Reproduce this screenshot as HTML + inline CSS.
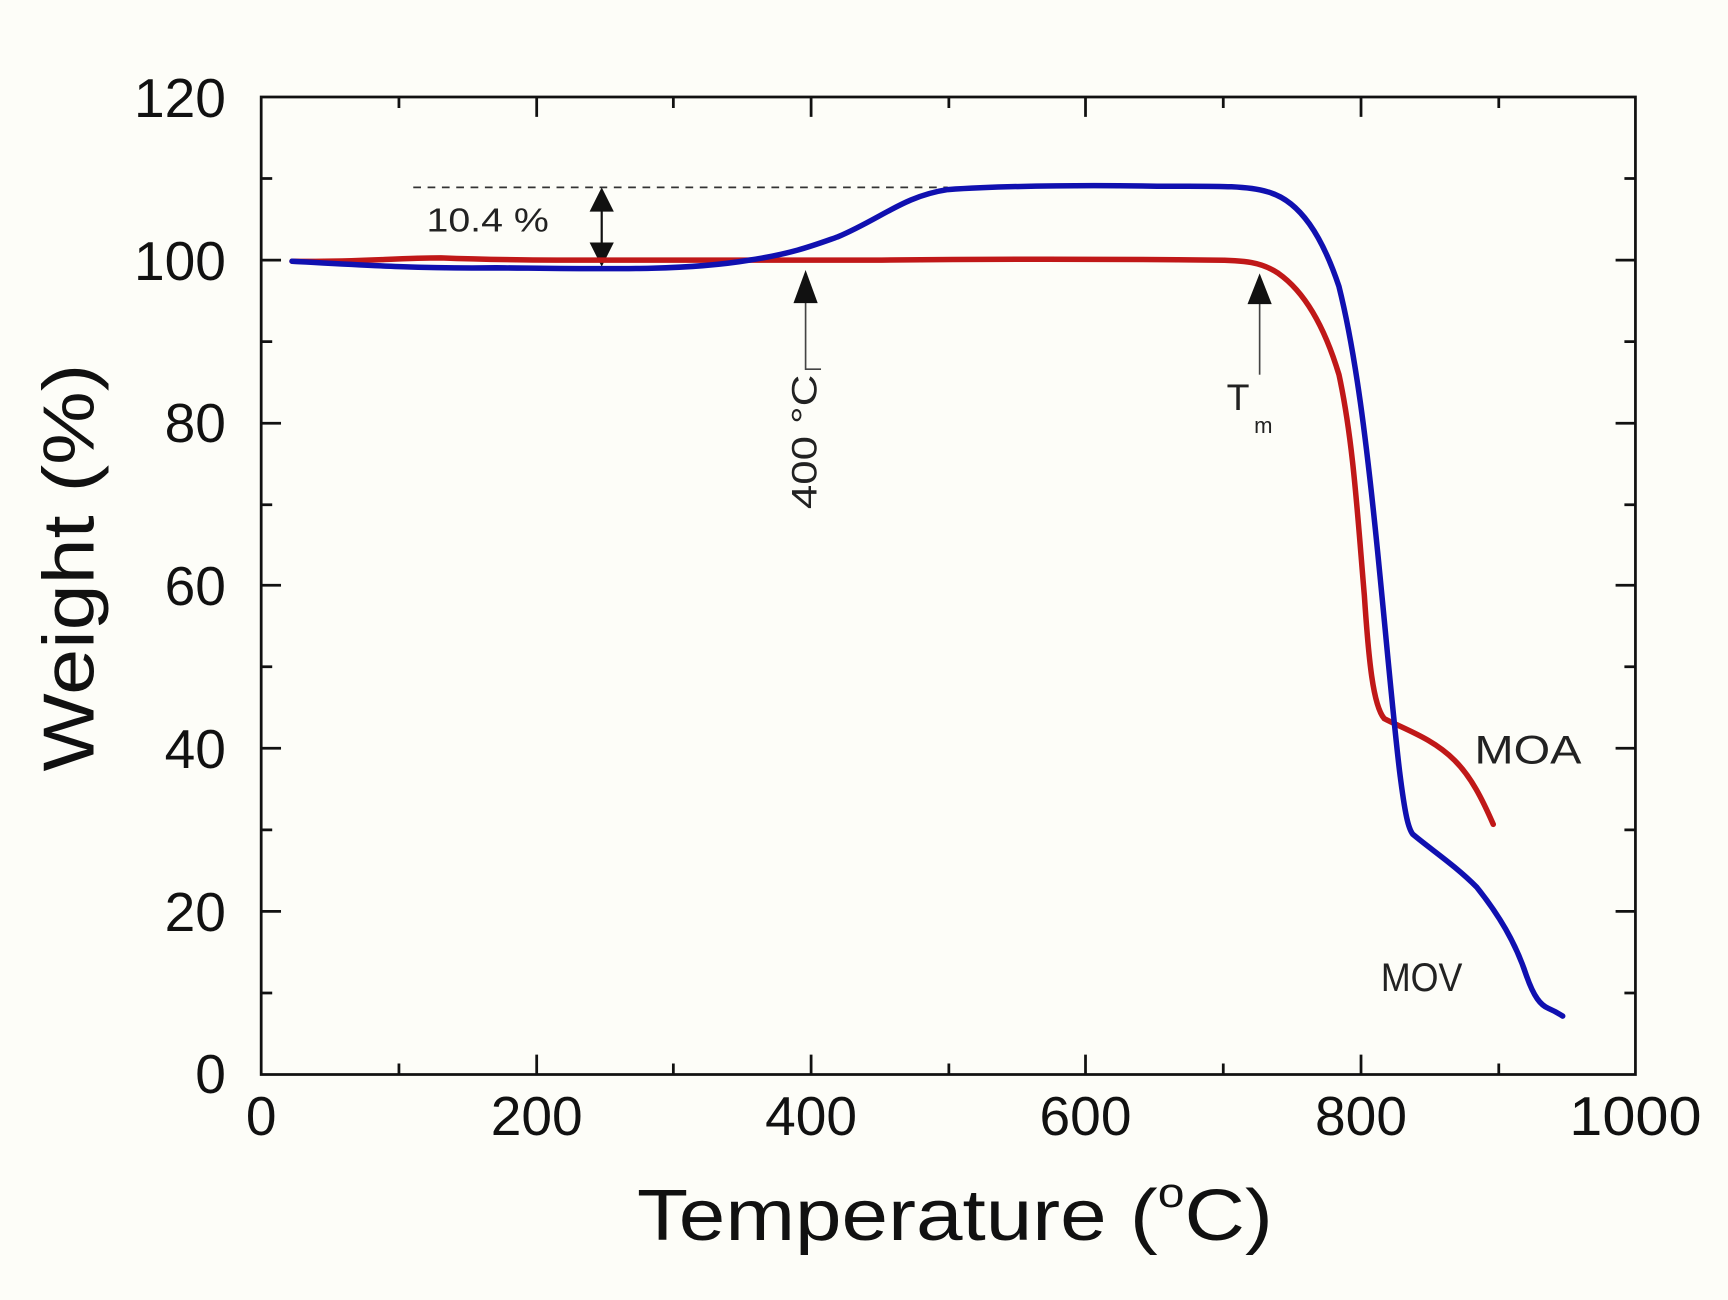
<!DOCTYPE html>
<html><head><meta charset="utf-8"><style>html,body{margin:0;padding:0;background:#fdfdf8;}svg{display:block}</style></head>
<body>
<svg width="1728" height="1300" viewBox="0 0 1568 1179.6" xmlns="http://www.w3.org/2000/svg" font-family="Liberation Sans, sans-serif">
<rect width="1568" height="1180" fill="#fdfdf8"/>
<g stroke="#111" stroke-width="2.5" fill="none">
<rect x="237" y="88" width="1247" height="887"/>
<path d="M362 975v-10 M487 975v-18 M611 975v-10 M736 975v-18 M861 975v-10 M985 975v-18 M1110 975v-10 M1235 975v-18 M1360 975v-10
M362 88v10 M487 88v18 M611 88v10 M736 88v18 M861 88v10 M985 88v18 M1110 88v10 M1235 88v18 M1360 88v10
M237 901h10 M237 827h18 M237 753h10 M237 679h18 M237 605h10 M237 531h18 M237 458h10 M237 384h18 M237 310h10 M237 236h18 M237 162h10
M1484 901h-10 M1484 827h-18 M1484 753h-10 M1484 679h-18 M1484 605h-10 M1484 531h-18 M1484 458h-10 M1484 384h-18 M1484 310h-10 M1484 236h-18 M1484 162h-10"/>
</g>
<g font-size="50" fill="#111">
<text x="237" y="1030" text-anchor="middle">0</text>
<text x="487" y="1030" text-anchor="middle">200</text>
<text x="736" y="1030" text-anchor="middle">400</text>
<text x="985" y="1030" text-anchor="middle">600</text>
<text x="1235" y="1030" text-anchor="middle">800</text>
<text x="1484" y="1030" text-anchor="middle" textLength="120" lengthAdjust="spacingAndGlyphs">1000</text>
<g text-anchor="end">
<text x="205" y="992">0</text>
<text x="205" y="845">20</text>
<text x="205" y="697">40</text>
<text x="205" y="549">60</text>
<text x="205" y="401">80</text>
<text x="205" y="254">100</text>
<text x="205" y="106">120</text>
</g>
</g>
<text x="578" y="1125" font-size="66" fill="#111" textLength="577" lengthAdjust="spacingAndGlyphs">Temperature (<tspan font-size="38" dy="-30">o</tspan><tspan dy="30">C)</tspan></text>
<text transform="translate(85,515) rotate(-90)" font-size="66" text-anchor="middle" fill="#111" textLength="370" lengthAdjust="spacingAndGlyphs">Weight (%)</text>
<path d="M375 170H860" stroke="#333" stroke-width="1.5" stroke-dasharray="7,6"/>
<path d="M546 185V228" stroke="#111" stroke-width="2"/>
<path d="M546 170l-11 22h22z M546 242l-11-22h22z" fill="#111"/>
<text x="387" y="210" font-size="30" fill="#222" textLength="111" lengthAdjust="spacingAndGlyphs">10.4 %</text>
<path d="M731 265V335H745" stroke="#444" stroke-width="1.5" fill="none"/>
<path d="M731 245l-11 30h22z" fill="#111"/>
<text transform="translate(741,462) rotate(-90)" font-size="32" fill="#222" textLength="122" lengthAdjust="spacingAndGlyphs">400 °C</text>
<path d="M1143 270V340" stroke="#444" stroke-width="1.5"/>
<path d="M1143 248l-11 28h22z" fill="#111"/>
<text x="1113" y="372" font-size="34" fill="#222">T</text>
<text x="1138" y="393" font-size="20" fill="#222">m</text>
<path d="M265 237 C320 238,360 234,400 234 C450 236,500 236,560 236 C650 236,700 236,800 236 C900 235,1000 235,1100 236 C1130 236,1145 238,1160 248 C1180 262,1200 290,1215 340 C1228 400,1232 470,1238 540 C1242 600,1246 640,1256 652 C1275 662,1300 670,1320 690 C1335 705,1345 725,1355 748" stroke="#c01818" stroke-width="5" fill="none" stroke-linecap="round"/>
<path d="M265 237 C320 240,380 244,450 243 C550 244,620 246,680 236 C720 230,740 222,760 215 C800 198,820 178,860 172 C920 168,1000 168,1050 169 C1100 169,1130 168,1150 174 C1180 182,1200 215,1215 260 C1230 320,1240 400,1250 500 C1258 580,1264 650,1270 700 C1275 740,1278 752,1282 757 C1300 772,1320 785,1340 805 C1360 830,1375 855,1385 885 C1392 905,1398 912,1405 915 C1412 918,1415 920,1418 922" stroke="#1010b0" stroke-width="5" fill="none" stroke-linecap="round"/>
<text x="1338" y="693" font-size="36" fill="#222" textLength="97" lengthAdjust="spacingAndGlyphs">MOA</text>
<text x="1253" y="899" font-size="36" fill="#222" textLength="74" lengthAdjust="spacingAndGlyphs">MOV</text>
</svg>
</body></html>
